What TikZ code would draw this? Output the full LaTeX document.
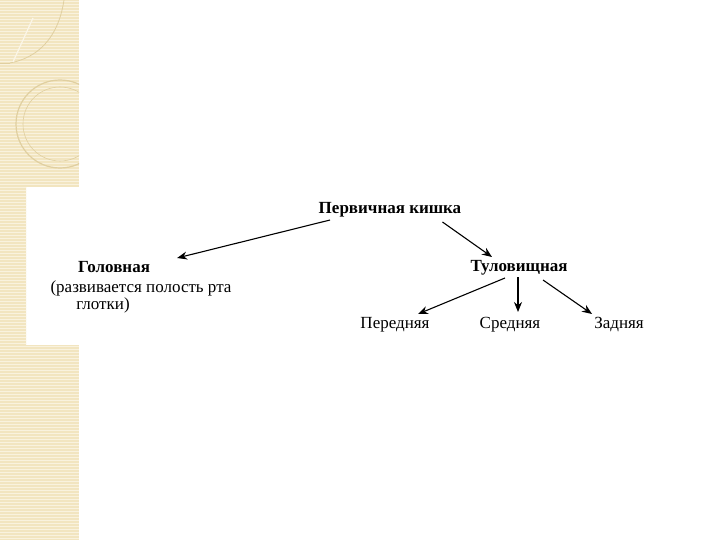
\documentclass[tikz,border=0pt]{standalone}
\usepackage{fontspec}
\setmainfont{Liberation Serif}
\usetikzlibrary{arrows.meta,positioning}
\definecolor{stripbeige}{RGB}{242,229,192}
\definecolor{stripline}{RGB}{249,242,222}
\definecolor{ornament}{RGB}{224,207,160}
\definecolor{ornlight}{RGB}{251,246,232}

\begin{document}
\begin{tikzpicture}[x=1pt,y=-1pt,
    head node/.style={font=\bfseries\fontsize{17}{20}\selectfont,inner sep=1pt,anchor=base},
    part node/.style={font=\fontsize{17}{20}\selectfont,inner sep=1pt,anchor=base},
    arr/.style={-{Stealth[length=10pt,width=8pt]},line width=1.1pt}
  ]
  \useasboundingbox (0,0) rectangle (720,540);

  % beige strip on the left
  \begin{scope}
    \clip (0,0) -- (79,0) -- (79,187) -- (26,187) -- (26,345) -- (79,345) -- (79,540) -- (0,540) -- cycle;
    \fill[stripbeige] (0,0) rectangle (79,540);
    \foreach \y in {1,4,...,540}
      \draw[stripline,line width=0.8pt] (0,\y) -- (79,\y);
    \draw[ornament,line width=0.8pt] (64,0) .. controls (58,40) and (36,58) .. (10,63);
    \draw[ornament,line width=0.8pt] (0,63) -- (10,63);
    \draw[ornlight,line width=1.2pt] (33,18) -- (13,62);
    \draw[ornament,line width=1.2pt] (60,124) circle (44);
    \draw[ornament,line width=0.6pt] (60,124) circle (37);
  \end{scope}

  % nodes
  \node[head node] (kishka) at (390,214) {Первичная кишка};
  \node[head node] (golov) at (114,272) {Головная};
  \node[part node] (razv) at (141,292) {(развивается полость рта};
  \node[part node] (glotki) at (103,309) {глотки)};
  \node[head node] (tulov) at (519,271) {Туловищная};
  \node[part node] (pered) at (395,328) {Передняя};
  \node[part node] (sred) at (510,328) {Средняя};
  \node[part node] (zad) at (619,328) {Задняя};

  % arrows
  \draw[arr] ([xshift=12.5pt,yshift=-6pt]kishka.base west) -- ([xshift=26pt,yshift=14pt]golov.base east);
  \draw[arr] ([xshift=-20pt,yshift=-8pt]kishka.base east) -- ([xshift=-27pt,yshift=14pt]tulov.base);
  \draw[arr] ([xshift=-14pt,yshift=-7pt]tulov.base) -- ([xshift=23pt,yshift=14pt]pered.base);
  \draw[arr] ([xshift=-1pt,yshift=-6pt]tulov.base) -- ([xshift=8pt,yshift=16pt]sred.base);
  \draw[arr] ([xshift=24pt,yshift=-9pt]tulov.base) -- ([xshift=-27pt,yshift=14pt]zad.base);
\end{tikzpicture}
\end{document}
